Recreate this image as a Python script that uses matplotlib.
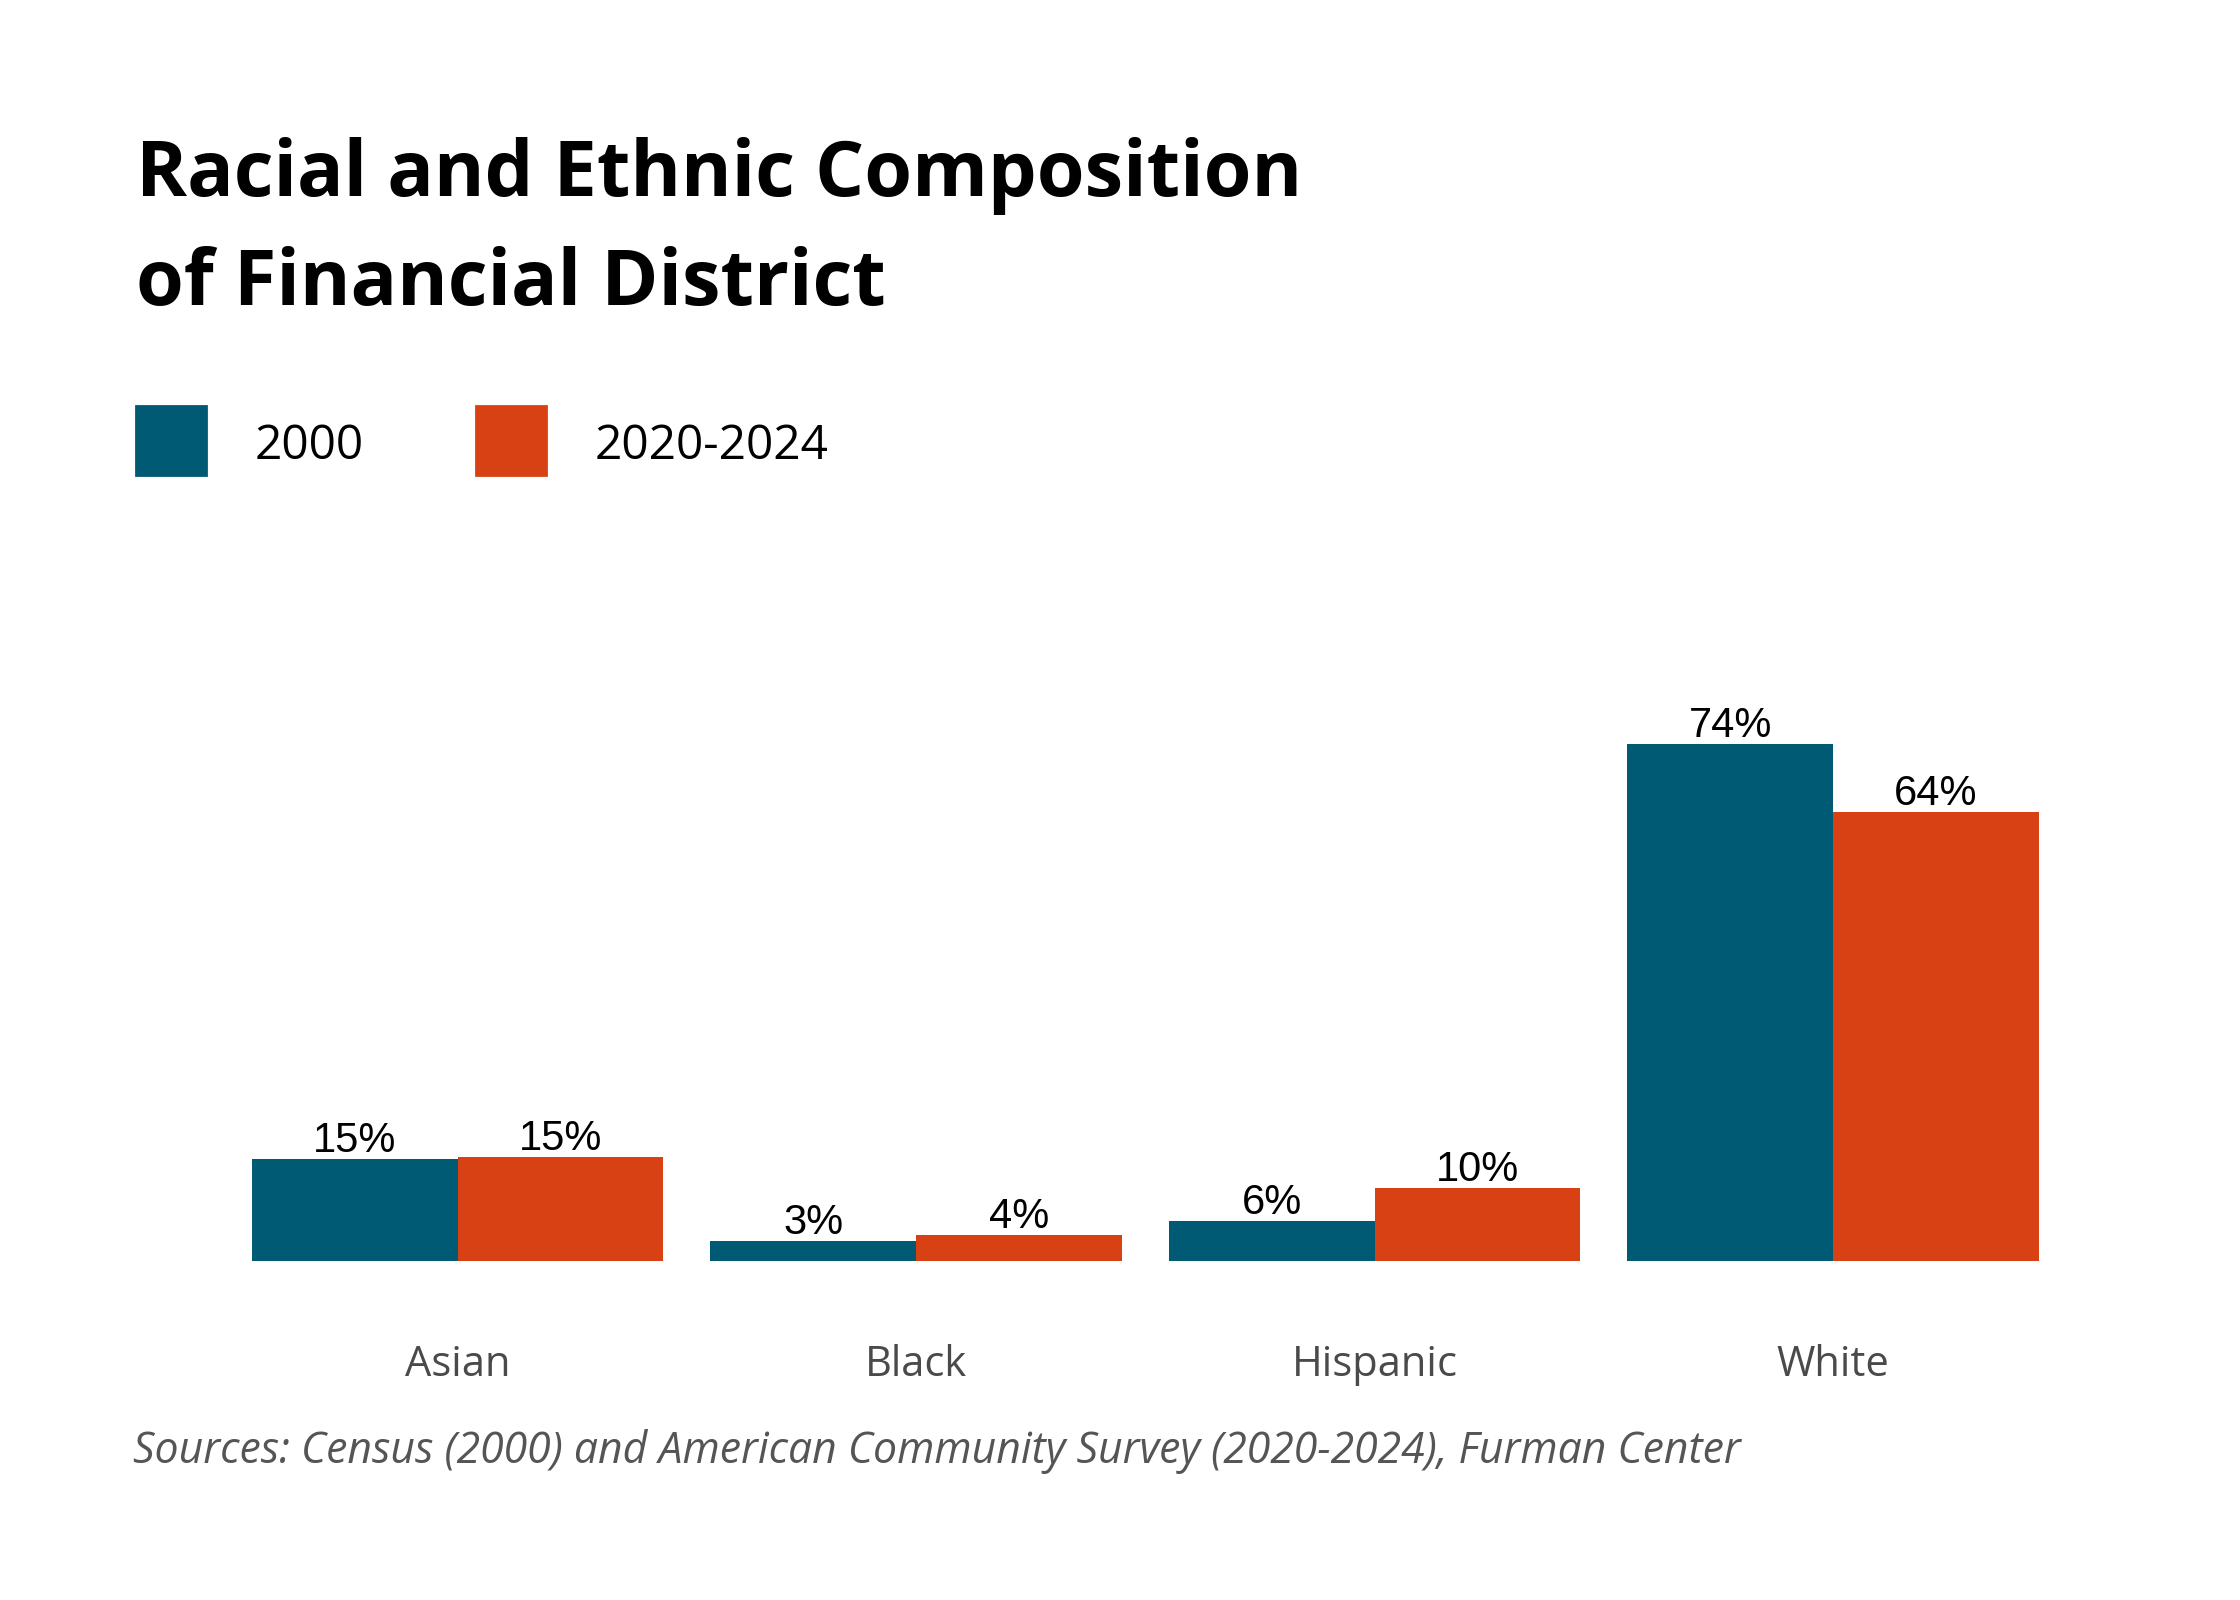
import matplotlib
matplotlib.use('Agg')
import matplotlib.pyplot as plt
import numpy as np

categories = ['Asian', 'Black', 'Hispanic', 'White']
series_names = ['2000', '2020-2024']
values_2000 = [14.6, 2.9, 5.7, 73.9]
values_2020 = [14.9, 3.7, 10.4, 64.2]
colors = ['#005a74', '#d74114']

W, H = 2240, 1600
fig = plt.figure(figsize=(W / 200, H / 200), dpi=200)

def fx(px):
    return px / W

def fy(py):
    return 1 - py / H

# title
fig.text(fx(136), fy(196), 'Racial and Ethnic Composition', fontsize=27.8, fontweight='bold',
         family='Open Sans', color='black', va='baseline')
fig.text(fx(136), fy(305), 'of Financial District', fontsize=27.8, fontweight='bold',
         family='Open Sans', color='black', va='baseline')

# legend
for i, (name, c) in enumerate(zip(series_names, colors)):
    x0 = [136, 476][i]
    fig.patches.append(plt.Rectangle((fx(x0), fy(475)), fx(70), 69 / H, color=c,
                                     transform=fig.transFigure, figure=fig))
    fig.text(fx(x0 + 119), fy(446), name, fontsize=17.2, family='Open Sans', color='black', va='center')

# bars
ax = fig.add_axes([fx(228.3), fy(1261), fx(2062.3 - 228.3), (1261 - 701) / H])
x = np.arange(len(categories))
w = 0.449
b1 = ax.bar(x - w / 2, values_2000, w, color=colors[0])
b2 = ax.bar(x + w / 2, values_2020, w, color=colors[1])
for bars, vals in [(b1, values_2000), (b2, values_2020)]:
    for rect, v in zip(bars, vals):
        ax.annotate(f'{v:.0f}%', (rect.get_x() + rect.get_width() / 2, v), xytext=(0, 2.5),
                    textcoords='offset points', ha='center', va='baseline',
                    fontsize=15, family='Liberation Sans', color='black')
ax.set_xlim(-0.5, 3.5)
ax.set_ylim(0, 80)
ax.set_xticks(x)
ax.set_xticklabels(categories, fontsize=15, family='Open Sans', color='#4a4a4a')
ax.tick_params(axis='x', length=0, pad=30)
ax.set_yticks([])
for s in ax.spines.values():
    s.set_visible(False)

# source
fig.text(fx(133), fy(1463), 'Sources: Census (2000) and American Community Survey (2020-2024), Furman Center',
         fontsize=15.4, style='italic', family='Open Sans', color='#555555', va='baseline')

fig.savefig('out.png', dpi=200, facecolor='white')
